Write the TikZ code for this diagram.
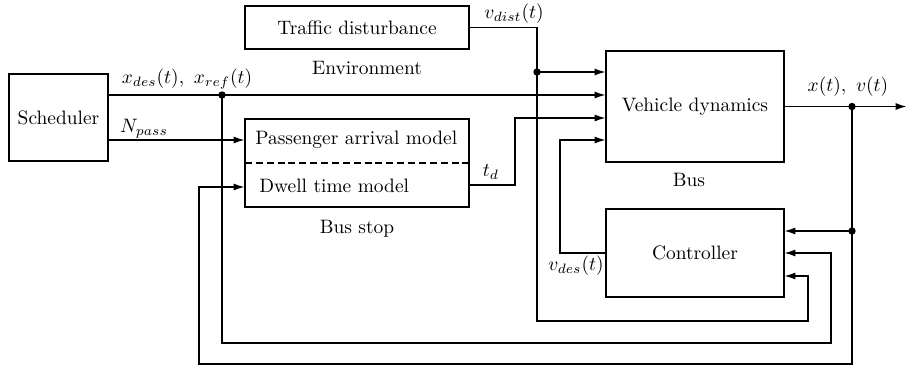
\documentclass[tikz,border=0pt]{standalone}
\usetikzlibrary{arrows.meta}
\begin{document}
\begin{tikzpicture}[x=0.515pt,y=-0.515pt,
  box/.style={draw,line width=0.9pt,rectangle,inner sep=0pt,outer sep=0pt,align=center},
  wire/.style={line width=0.9pt},
  arr/.style={wire,-{Latex[length=5.8pt,width=3.6pt]}},
  lbl/.style={inner sep=0pt},
  dot/.style={circle,fill=black,inner sep=0pt,minimum size=3.8pt}]
\useasboundingbox (0,0) rectangle (907,370);
% boxes
\node[box,minimum width=51pt,minimum height=44.8pt] (sched) at (58.5,117.5) {Scheduler};
\node[box,minimum width=115.4pt,minimum height=22.1pt] (traf) at (357,27.5) {Traffic disturbance};
\node[box,minimum width=115.4pt,minimum height=45.3pt] (stop) at (357,163) {};
\node[box,minimum width=91.7pt,minimum height=57.2pt] (veh) at (695,106.5) {Vehicle dynamics};
\node[box,minimum width=91.7pt,minimum height=45.3pt] (ctrl) at (695,253) {Controller};
\draw[wire,dashed,dash pattern=on 3.6pt off 2pt] (stop.west) -- (stop.east);
\node[lbl,anchor=west] (pam) at (255,140) {Passenger arrival model};
\node[lbl,anchor=west] (dtm) at (259,186) {Dwell time model};
% captions
\node[lbl] (env) at (367,68) {Environment};
\node[lbl] (bst) at (357,229) {Bus stop};
\node[lbl] (bus) at (689,180) {Bus};
% coordinates
\coordinate (j1) at (222,95);
\coordinate (j2) at (537,72);
\coordinate (j3) at (852,106.5);
\coordinate (j4) at (852,231);
\coordinate (oe) at (907,106.5);
\coordinate (n1) at (0,140);
\coordinate (c1) at (537,321);
\coordinate (c2) at (808,276);
\coordinate (c3) at (515,118);
\coordinate (c4) at (560,140);
\coordinate (c5) at (199,364);
\coordinate (c6) at (0,187);
\coordinate (c7) at (831,343);
% wires
\draw[arr] (sched.east |- j1) -- (j1) -- (veh.west |- j1);
\draw[arr] (sched.east |- n1) -- (stop.west |- n1);
\draw[arr] (traf.east) -| (c1) -| (c2) -- (ctrl.east |- c2);
\draw[arr] (j2) -- (veh.west |- j2);
\draw[arr] (stop.east |- 0,185) -| (c3) -- (veh.west |- c3);
\draw[arr] (ctrl.west) -| (c4) -- (veh.west |- c4);
\draw[arr] (veh.east) -- (j3) -- (oe);
\draw[arr] (j3) |- (c5) |- (stop.west |- c6);
\draw[arr] (j4) -- (ctrl.east |- j4);
\draw[arr] (j1) |- (c7) |- (ctrl.east |- 0,253);
% dots
\node[dot] at (j1) {};
\node[dot] at (j2) {};
\node[dot] at (j3) {};
\node[dot] at (j4) {};
% signal labels
\node[lbl] (lx) at (187,79) {$x_{des}(t),\ x_{ref}(t)$};
\node[lbl] (ln) at (144,129) {$N_{pass}$};
\node[lbl] (lv) at (514,14) {$v_{dist}(t)$};
\node[lbl] (lt) at (491,172) {$t_d$};
\node[lbl] (lo) at (848,87) {$x(t),\ v(t)$};
\node[lbl] (ld) at (576,266) {$v_{des}(t)$};
\end{tikzpicture}
\end{document}
